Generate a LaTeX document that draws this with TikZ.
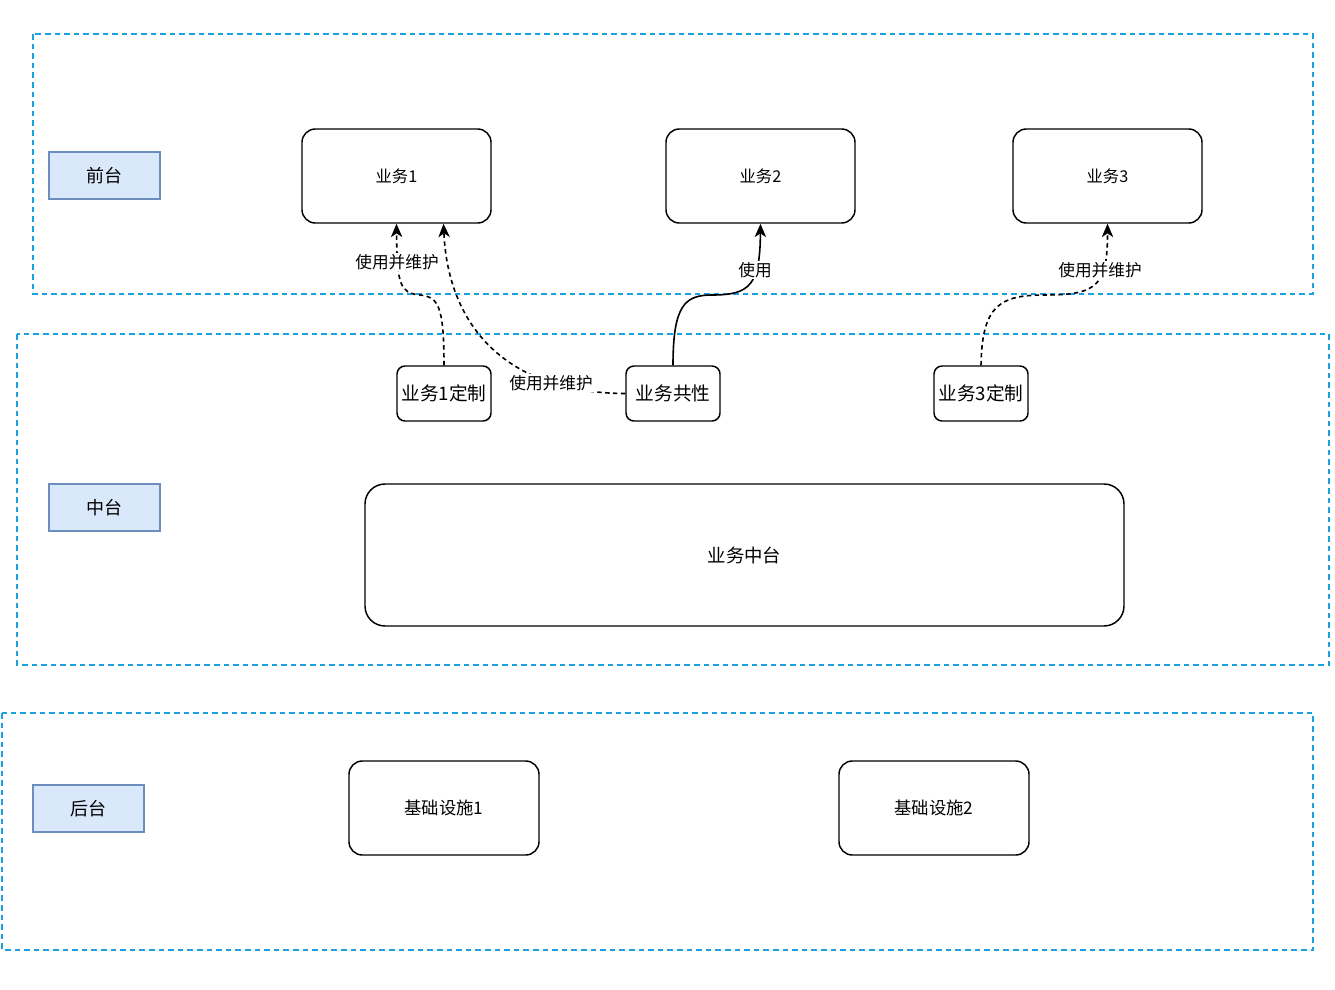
\documentclass[tikz,border=0pt]{standalone}
\usepackage{fontspec}
\setmainfont{Noto Sans CJK SC}
\usetikzlibrary{arrows.meta}
\definecolor{contblue}{HTML}{1BA1E2}
\definecolor{lblfill}{HTML}{DAE8FC}
\definecolor{lbldraw}{HTML}{6C8EBF}
\begin{document}
\begin{tikzpicture}[x=0.75pt,y=-0.75pt,
  container/.style={draw=contblue,line width=1pt,dash pattern=on 4.2pt off 3pt},
  tier/.style={draw=lbldraw,fill=lblfill,line width=1pt,minimum width=83.25pt,minimum height=35.25pt,inner sep=0pt,font=\fontsize{13.5pt}{15pt}\selectfont},
  bigbox/.style={draw=black,line width=1.1pt,rounded corners=10pt,minimum width=141.75pt,minimum height=70.5pt,inner sep=0pt,font=\fontsize{12.2pt}{13pt}\selectfont},
  smallbox/.style={draw=black,line width=1.1pt,rounded corners=6pt,minimum width=70.5pt,minimum height=41.25pt,inner sep=0pt,font=\fontsize{14pt}{16pt}\selectfont},
  infra/.style={draw=black,line width=1.1pt,rounded corners=10pt,minimum width=142.5pt,minimum height=70.5pt,inner sep=0pt,font=\fontsize{13pt}{15pt}\selectfont},
  elabel/.style={fill=white,inner sep=1pt,font=\fontsize{12.5pt}{14pt}\selectfont},
  conn/.style={draw=black,line width=1.2pt,-{Stealth[length=10pt,width=8.5pt,inset=2.8pt]}},
  dconn/.style={conn,dash pattern=on 3.3pt off 2.6pt}
]
\useasboundingbox (0,0) rectangle (1335,989);
% containers
\draw[container] (33,34) rectangle (1313,294);
\draw[container] (17,334) rectangle (1329,665);
\draw[container] (2,713) rectangle (1313,950);
% tier labels
\node[tier] (front) at (104.5,175.5) {前台};
\node[tier] (middle) at (104.5,507.5) {中台};
\node[tier] (back) at (88.5,808.5) {后台};
% front boxes
\node[bigbox] (b1) at (396.5,176) {业务1};
\node[bigbox] (b2) at (760.5,176) {业务2};
\node[bigbox] (b3) at (1107.5,176) {业务3};
% middle boxes
\node[smallbox] (c1) at (444,393.5) {业务1定制};
\node[smallbox] (cc) at (673,393.5) {业务共性};
\node[smallbox] (c3) at (981,393.5) {业务3定制};
\node[draw=black,line width=1.1pt,rounded corners=15pt,minimum width=569.25pt,minimum height=106.5pt,inner sep=0pt,font=\fontsize{13.8pt}{15pt}\selectfont] (mid) at (744.5,555) {业务中台};
% back boxes
\node[infra] (i1) at (444,808) {基础设施1};
\node[infra] (i2) at (934,808) {基础设施2};
% connectors
\draw[dconn] (c1.north) .. controls (444,305) and (438,297) .. (420,295)
  .. controls (400,293) and (397,285) .. (b1.south);
\node[elabel] (l1) at (397,262) {使用并维护};
\draw[dconn] (cc.west) .. controls (505,393) and (448,325) .. ([xshift=35.25pt]b1.south);
\node[elabel] (l2) at (551,383) {使用并维护};
\draw[conn] (cc.north) .. controls (673,305) and (685,295) .. (712,295)
  .. controls (750,295) and (760,285) .. (b2.south);
\node[elabel] (l3) at (755,270) {使用};
\draw[dconn] (c3.north) .. controls (982,305) and (1000,295) .. (1045,295)
  .. controls (1098,295) and (1107.5,285) .. (b3.south);
\node[elabel] (l4) at (1100,270) {使用并维护};
\end{tikzpicture}
\end{document}
